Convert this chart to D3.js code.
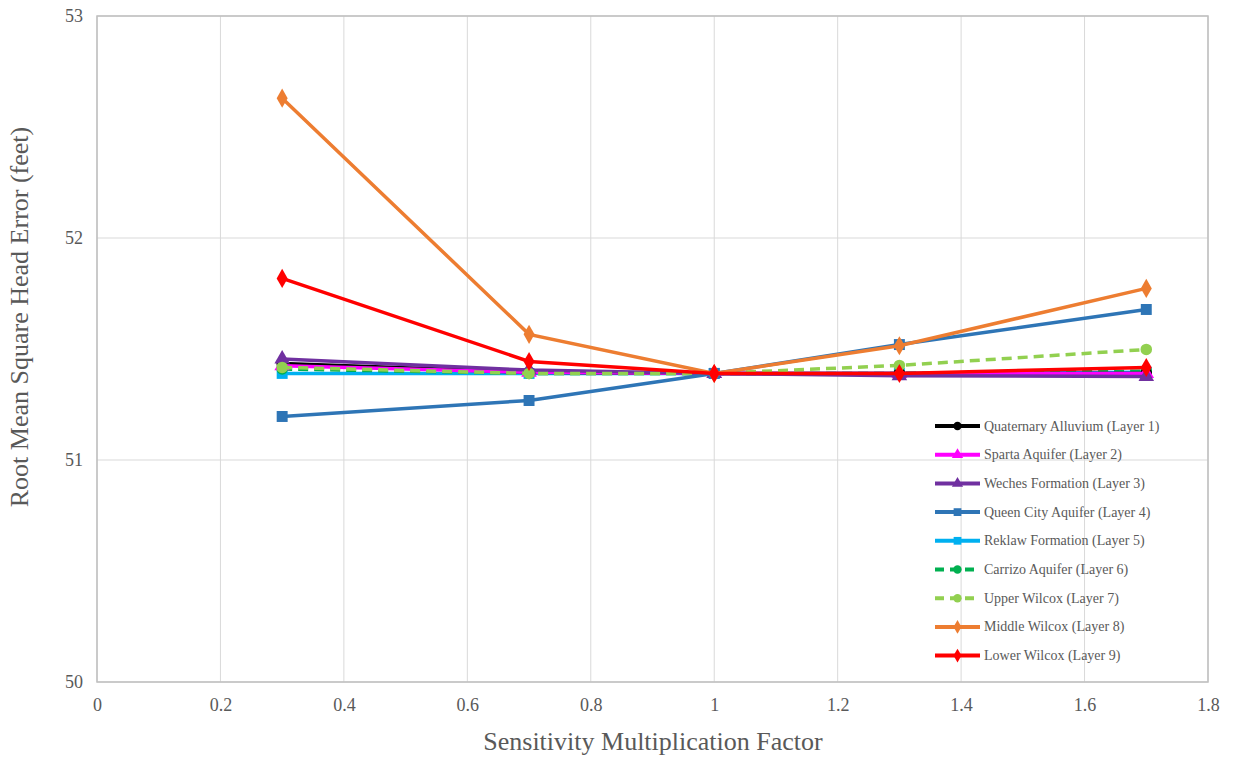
<!DOCTYPE html>
<html><head><meta charset="utf-8">
<script src="https://cdn.jsdelivr.net/npm/d3@7"></script>
<style>body{margin:0;background:#fff}</style>
</head><body>
<svg id="c" width="1234" height="757"></svg>
<script>
const factors = [0.3, 0.7, 1, 1.3, 1.7];
const seriesNames = ["Quaternary Alluvium (Layer 1)","Sparta Aquifer (Layer 2)","Weches Formation (Layer 3)","Queen City Aquifer (Layer 4)","Reklaw Formation (Layer 5)","Carrizo Aquifer (Layer 6)","Upper Wilcox (Layer 7)","Middle Wilcox (Layer 8)","Lower Wilcox (Layer 9)"];
const quaternary = [51.435, 51.395, 51.39, 51.39, 51.39];
const sparta     = [51.425, 51.395, 51.39, 51.39, 51.39];
const weches     = [51.455, 51.405, 51.39, 51.38, 51.376];
const queenCity  = [51.196, 51.268, 51.39, 51.52, 51.678];
const reklaw     = [51.39, 51.39, 51.39, 51.39, 51.395];
const carrizo    = [51.41, 51.39, 51.39, 51.39, 51.40];
const upperWilcox= [51.417, 51.39, 51.39, 51.426, 51.498];
const middleWilcox=[52.63, 51.566, 51.39, 51.515, 51.773];
const lowerWilcox= [51.818, 51.444, 51.39, 51.39, 51.417];
const xTicks = [0,0.2,0.4,0.6,0.8,1,1.2,1.4,1.6,1.8];
const yTicks = [50,51,52,53];

const values = [quaternary,sparta,weches,queenCity,reklaw,carrizo,upperWilcox,middleWilcox,lowerWilcox];
const colors = ["#000000","#FF00FF","#7030A0","#2E75B6","#00B0F0","#00B050","#92D050","#ED7D31","#FF0000"];
const markers = ["circle","triangle","triangle","square","square","circle","circle","diamond","diamond"];
const dashed = [false,false,false,false,false,true,true,false,false];
const drawOrder = [4,5,0,1,2,6,3,7,8];

const svg = d3.select("#c");
const L=97,R=1208,T=16,B=682;
const x = d3.scaleLinear().domain([0,1.8]).range([L,R]);
const y = d3.scaleLinear().domain([50,53]).range([B,T]);
const grid="#d9d9d9", txt="#595959";

// grid
svg.append("g").selectAll("line").data(xTicks).join("line")
  .attr("x1",d=>x(d)).attr("x2",d=>x(d)).attr("y1",T).attr("y2",B)
  .attr("stroke",grid).attr("stroke-width",1);
svg.append("g").selectAll("line").data(yTicks).join("line")
  .attr("x1",L).attr("x2",R).attr("y1",d=>y(d)).attr("y2",d=>y(d))
  .attr("stroke",grid).attr("stroke-width",1);
svg.append("rect").attr("x",L).attr("y",T).attr("width",R-L).attr("height",B-T)
  .attr("fill","none").attr("stroke","#bfbfbf").attr("stroke-width",1.5);

// axes
const xa = svg.append("g").attr("transform",`translate(0,${B})`)
  .call(d3.axisBottom(x).tickValues(xTicks).tickSize(0).tickPadding(16).tickFormat(d=>d3.format("~g")(d)));
const ya = svg.append("g").attr("transform",`translate(${L},0)`)
  .call(d3.axisLeft(y).tickValues(yTicks).tickSize(0).tickPadding(14).tickFormat(d3.format("d")));
[xa,ya].forEach(a=>{a.select(".domain").remove();
  a.selectAll("text").attr("fill",txt).style("font-family","'Liberation Serif','DejaVu Serif',serif").style("font-size","18px");});

svg.append("text").attr("x",653).attr("y",750).attr("text-anchor","middle")
  .attr("fill",txt).style("font-family","'Liberation Serif',serif").style("font-size","26px")
  .text("Sensitivity Multiplication Factor");
svg.append("text").attr("transform",`translate(28,${317}) rotate(-90)`).attr("text-anchor","middle")
  .attr("fill",txt).style("font-family","'Liberation Serif',serif").style("font-size","26px")
  .text("Root Mean Square Head Error (feet)");

function symbolFor(m){return {circle:d3.symbolCircle,triangle:d3.symbolTriangle,square:d3.symbolSquare,diamond:d3.symbolDiamond}[m];}
const line = d3.line().x((d,i)=>x(factors[i])).y(d=>y(d));

drawOrder.forEach(k=>{
  const g = svg.append("g");
  g.append("path").datum(values[k]).attr("d",line).attr("fill","none")
    .attr("stroke",colors[k]).attr("stroke-width",3.5)
    .attr("stroke-dasharray",dashed[k]?"10,6":null);
  g.selectAll("path.m").data(values[k]).join("path").attr("class","m")
    .attr("transform",(d,i)=>`translate(${x(factors[i])},${y(d)})`)
    .attr("d",d3.symbol().type(symbolFor(markers[k])).size(markers[k]==="square"?120:105))
    .attr("fill",colors[k]);
});

// legend
const lg = svg.append("g");
seriesNames.forEach((n,i)=>{
  const yy = 426 + i*28.7;
  lg.append("line").attr("x1",935).attr("x2",980).attr("y1",yy).attr("y2",yy)
    .attr("stroke",colors[i]).attr("stroke-width",4).attr("stroke-dasharray",dashed[i]?"9,6":null);
  lg.append("path").attr("transform",`translate(957.5,${yy})`)
    .attr("d",d3.symbol().type(symbolFor(markers[i])).size(markers[i]==="square"?60:55)).attr("fill",colors[i]);
  lg.append("text").attr("x",984).attr("y",yy+4.5).attr("fill",txt)
    .style("font-family","'Liberation Serif',serif").style("font-size","14px").text(n);
});
</script>
</body></html>
